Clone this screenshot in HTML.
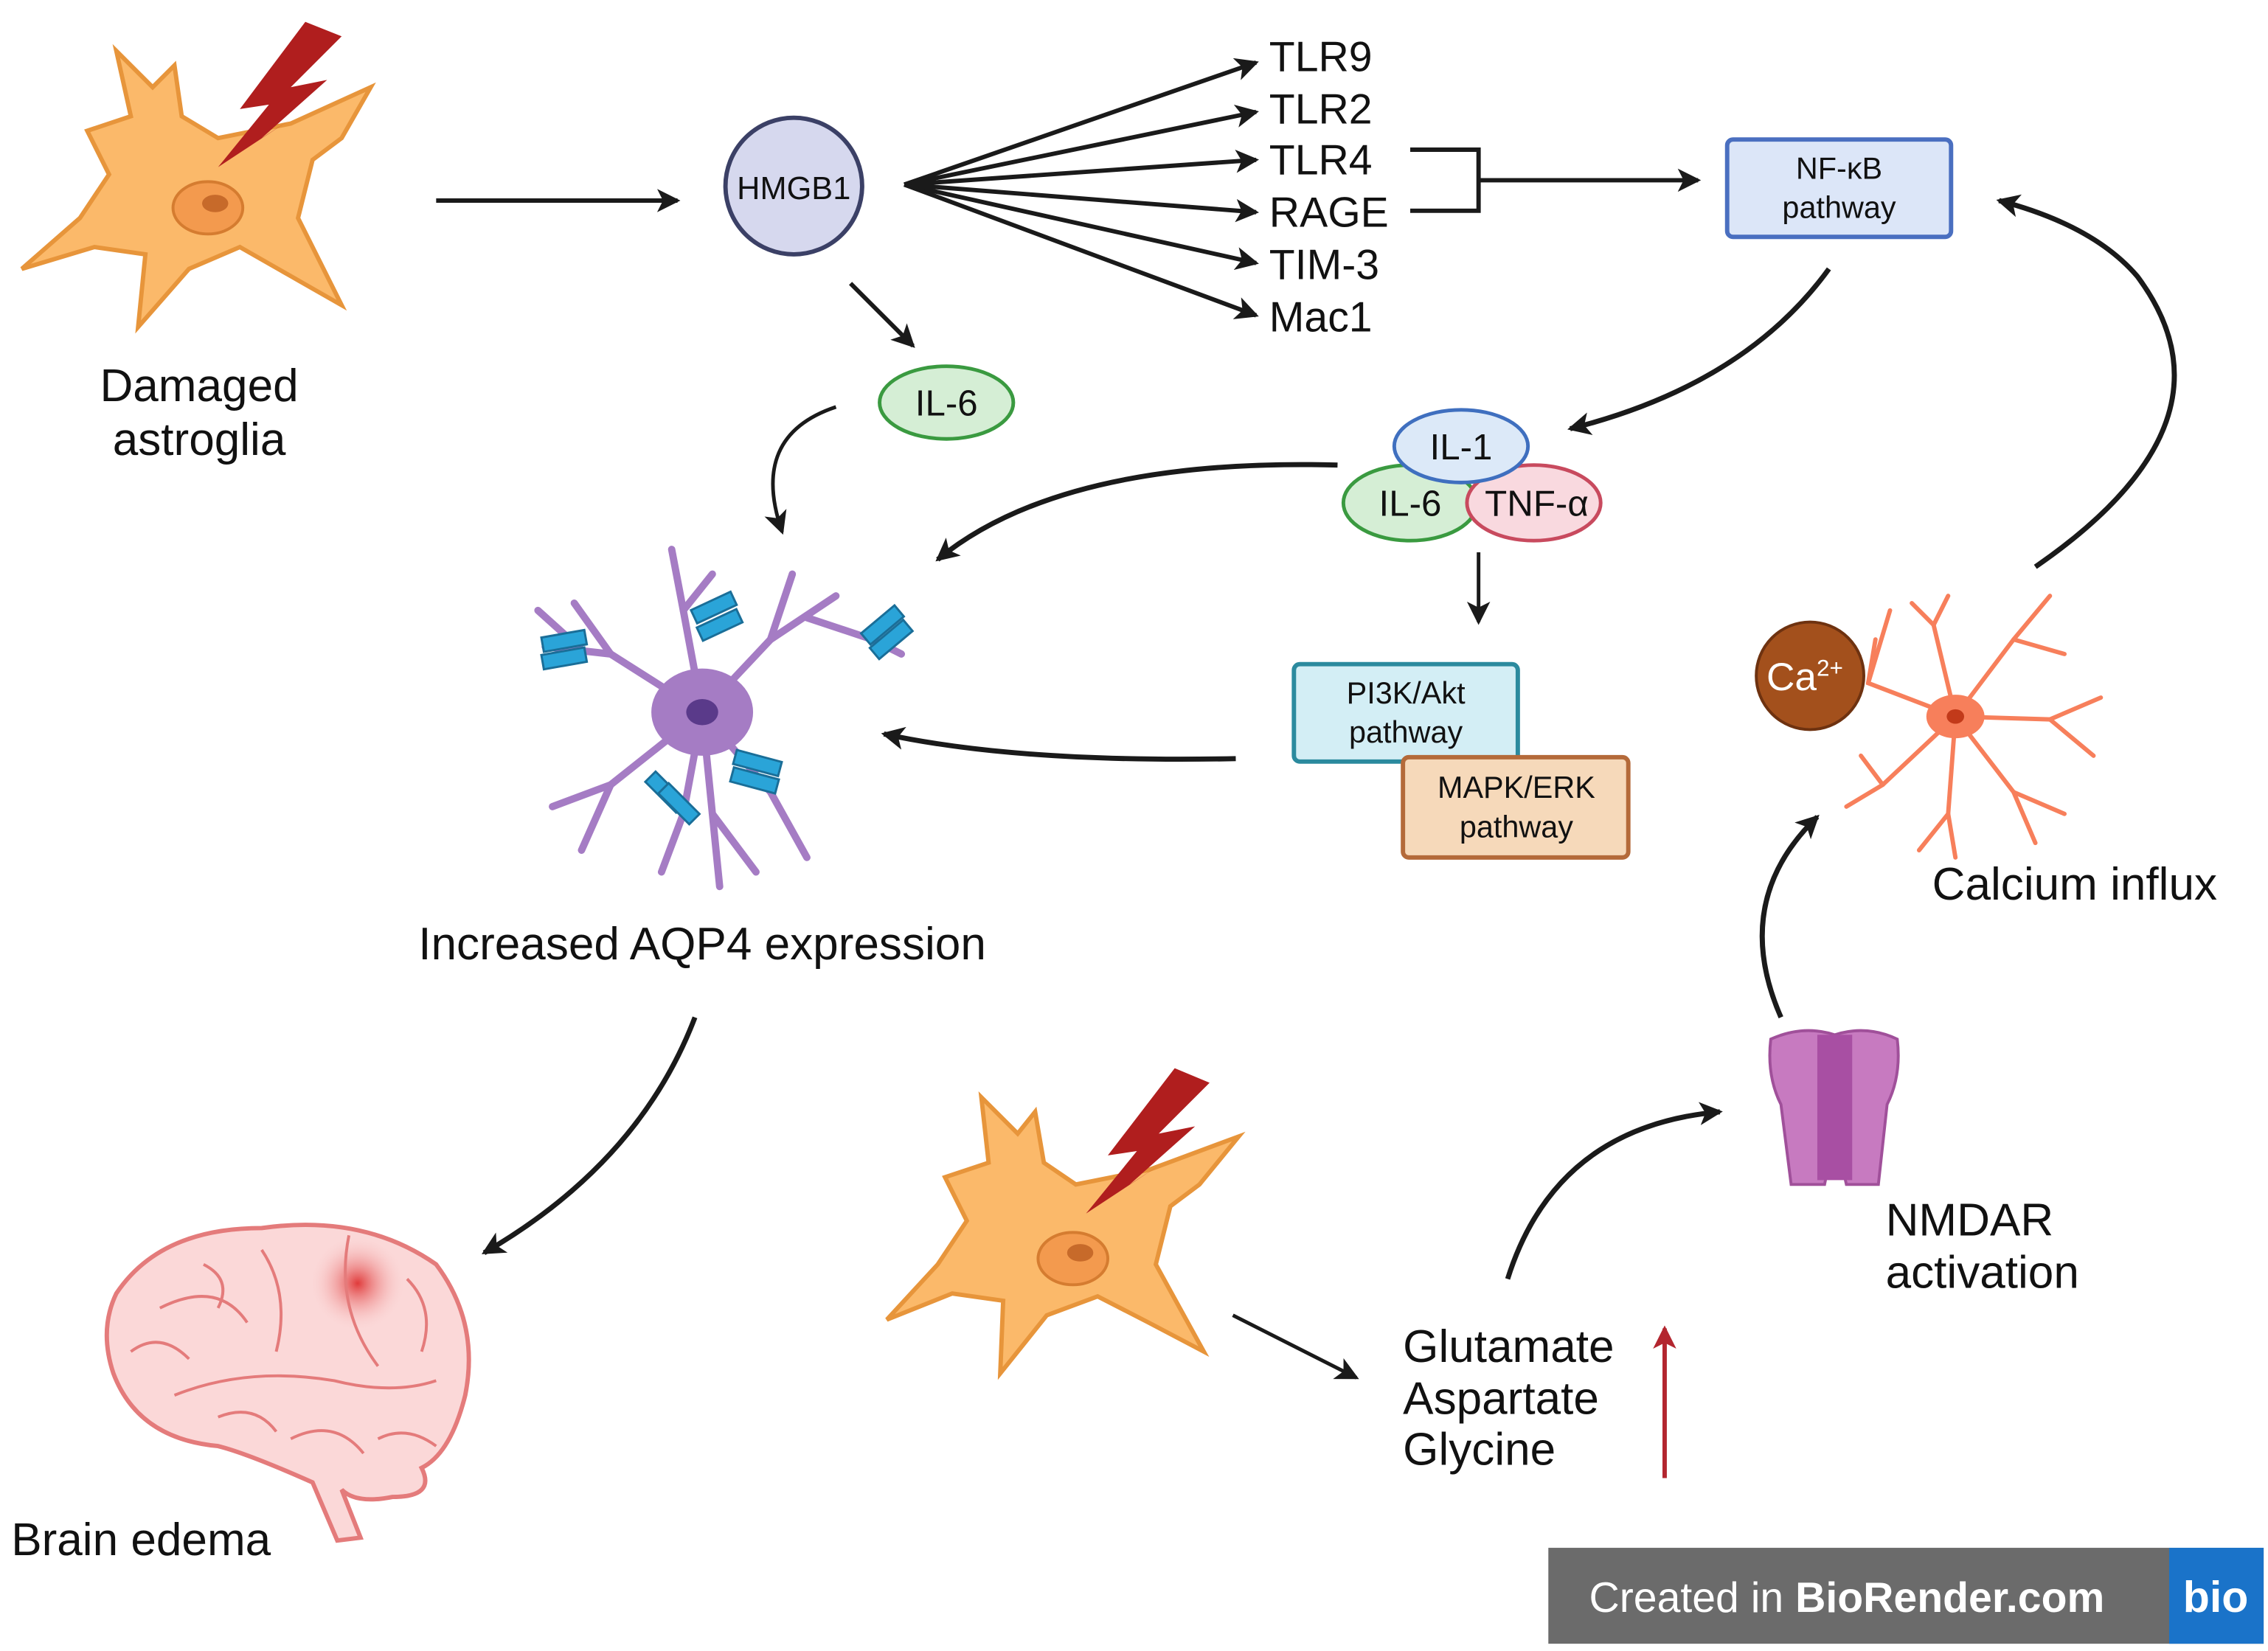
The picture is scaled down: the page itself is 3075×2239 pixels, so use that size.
<!DOCTYPE html>
<html><head><meta charset="utf-8"><style>
html,body{margin:0;padding:0;background:#fff}
svg{display:block}
text{font-family:"Liberation Sans",sans-serif;fill:#111}
</style></head><body>
<svg width="3075" height="2239" viewBox="0 0 1560 1136" preserveAspectRatio="none" xmlns="http://www.w3.org/2000/svg">
<defs>
<marker id="b" markerWidth="18" markerHeight="16" refX="14" refY="8" orient="auto" markerUnits="userSpaceOnUse"><path d="M0,0 L16,8 L0,16 L4,8Z" fill="#1a1a1a"/></marker>
<marker id="r" markerWidth="18" markerHeight="16" refX="14" refY="8" orient="auto" markerUnits="userSpaceOnUse"><path d="M0,0 L16,8 L0,16 L4,8Z" fill="#b3262f"/></marker>
<radialGradient id="brg" cx="0.6" cy="0.3" r="0.3"><stop offset="0" stop-color="#e03b3b"/><stop offset="1" stop-color="#fbd6d6" stop-opacity="0"/></radialGradient>
</defs>

<!-- Damaged astroglia 1 -->
<g fill="#FBB96A" stroke="#E7953B" stroke-width="3">
<path d="M80,35 L105,60 L120,45 L125,80 L150,95 L200,85 L255,60 L235,95 L215,110 L205,150 L235,210 L200,190 L165,170 L130,185 L95,225 L100,175 L65,170 L15,185 L55,150 L75,120 L60,90 L90,80 Z"/>
</g>
<ellipse cx="143" cy="143" rx="24" ry="18" fill="#F39A4E" stroke="#D57C30" stroke-width="2"/>
<ellipse cx="148" cy="140" rx="9" ry="6" fill="#C76A2A"/>
<path d="M210,15 L235,25 L200,60 L225,55 L180,95 L200,82 L150,115 L185,72 L165,75 Z" fill="#B01E1E"/>
<text x="137" y="276" font-size="31.5" text-anchor="middle">Damaged</text>
<text x="137" y="313" font-size="31.5" text-anchor="middle">astroglia</text>

<line x1="300" y1="138" x2="466" y2="138" stroke="#1a1a1a" stroke-width="3" marker-end="url(#b)"/>

<!-- HMGB1 -->
<circle cx="546" cy="128" r="47" fill="#D6D8EE" stroke="#3b4066" stroke-width="3"/>
<text x="546" y="137" font-size="22" text-anchor="middle">HMGB1</text>

<g stroke="#1a1a1a" stroke-width="3" fill="none" marker-end="url(#b)">
<line x1="622" y1="127" x2="864" y2="43"/>
<line x1="622" y1="127" x2="864" y2="77"/>
<line x1="622" y1="127" x2="864" y2="110"/>
<line x1="622" y1="127" x2="864" y2="146"/>
<line x1="622" y1="127" x2="864" y2="181"/>
<line x1="622" y1="127" x2="864" y2="217"/>
</g>
<g font-size="29">
<text x="873" y="49">TLR9</text>
<text x="873" y="85">TLR2</text>
<text x="873" y="120">TLR4</text>
<text x="873" y="156">RAGE</text>
<text x="873" y="192">TIM-3</text>
<text x="873" y="228">Mac1</text>
</g>
<path d="M970,103 L1017,103 L1017,145 L970,145" fill="none" stroke="#1a1a1a" stroke-width="3"/>
<line x1="1017" y1="124" x2="1168" y2="124" stroke="#1a1a1a" stroke-width="3" marker-end="url(#b)"/>

<rect x="1188" y="96" width="154" height="67" rx="4" fill="#DCE6F8" stroke="#4A6FC0" stroke-width="3"/>
<text x="1265" y="123" font-size="21" text-anchor="middle">NF-κB</text>
<text x="1265" y="150" font-size="21" text-anchor="middle">pathway</text>

<line x1="585" y1="195" x2="628" y2="238" stroke="#1a1a1a" stroke-width="3" marker-end="url(#b)"/>
<ellipse cx="651" cy="277" rx="46" ry="25" fill="#D5EED5" stroke="#3A9A40" stroke-width="2.5"/>
<text x="651" y="286" font-size="25" text-anchor="middle">IL-6</text>

<path d="M575,280 Q515,300 538,366" fill="none" stroke="#1a1a1a" stroke-width="2.5" marker-end="url(#b)"/>
<path d="M1258,185 Q1200,265 1080,295" fill="none" stroke="#1a1a1a" stroke-width="3.5" marker-end="url(#b)"/>

<ellipse cx="970" cy="346" rx="46" ry="26" fill="#D5EED5" stroke="#3A9A40" stroke-width="2.5"/>
<ellipse cx="1055" cy="346" rx="46" ry="26" fill="#F9D9DF" stroke="#C84A5E" stroke-width="2.5"/>
<ellipse cx="1005" cy="307" rx="46" ry="25" fill="#DCE9F8" stroke="#3F6FBF" stroke-width="2.5"/>
<text x="1005" y="316" font-size="25" text-anchor="middle">IL-1</text>
<text x="970" y="355" font-size="25" text-anchor="middle">IL-6</text>
<text x="1057" y="355" font-size="25" text-anchor="middle">TNF-α</text>

<path d="M920,320 Q730,315 645,385" fill="none" stroke="#1a1a1a" stroke-width="3.5" marker-end="url(#b)"/>
<line x1="1017" y1="380" x2="1017" y2="428" stroke="#1a1a1a" stroke-width="2.5" marker-end="url(#b)"/>

<rect x="890" y="457" width="154" height="67" rx="4" fill="#D3EEF5" stroke="#2B8A9E" stroke-width="3"/>
<text x="967" y="484" font-size="21" text-anchor="middle">PI3K/Akt</text>
<text x="967" y="511" font-size="21" text-anchor="middle">pathway</text>
<rect x="965" y="521" width="155" height="69" rx="4" fill="#F6D9BA" stroke="#B46A3A" stroke-width="3"/>
<text x="1043" y="549" font-size="21" text-anchor="middle">MAPK/ERK</text>
<text x="1043" y="576" font-size="21" text-anchor="middle">pathway</text>

<path d="M850,522 Q700,525 608,505" fill="none" stroke="#1a1a1a" stroke-width="3.5" marker-end="url(#b)"/>

<!-- AQP4 astrocyte -->
<g stroke="#A57CC4" stroke-width="5" fill="none" stroke-linecap="round">
<path d="M483,490 L470,420 L462,378"/><path d="M470,420 L490,395"/>
<path d="M483,490 L420,450 L375,445"/><path d="M420,450 L395,415"/><path d="M400,447 L370,420"/>
<path d="M483,490 L530,440 L575,410"/><path d="M530,440 L545,395"/><path d="M555,425 L600,440 L620,450"/>
<path d="M483,490 L420,540 L380,555"/><path d="M420,540 L400,585"/>
<path d="M483,490 L490,560 L495,610"/><path d="M490,560 L520,600"/>
<path d="M483,490 L530,545 L555,590"/><path d="M483,490 L470,560 L455,600"/>
</g>
<ellipse cx="483" cy="490" rx="35" ry="30" fill="#A57CC4"/>
<ellipse cx="483" cy="490" rx="11" ry="9" fill="#5A3A8A"/>
<g fill="#2AA4D8" stroke="#1A6E98" stroke-width="1.5">
<rect x="373" y="436" width="30" height="10" transform="rotate(-10 388 441)"/><rect x="373" y="448" width="30" height="10" transform="rotate(-10 388 453)"/>
<rect x="476" y="413" width="30" height="10" transform="rotate(-25 491 418)"/><rect x="480" y="425" width="30" height="10" transform="rotate(-25 495 430)"/>
<rect x="592" y="425" width="30" height="10" transform="rotate(-40 607 430)"/><rect x="598" y="435" width="30" height="10" transform="rotate(-40 613 440)"/>
<rect x="505" y="520" width="32" height="10" transform="rotate(15 521 525)"/><rect x="503" y="532" width="32" height="10" transform="rotate(15 519 537)"/>
<rect x="443" y="540" width="30" height="10" transform="rotate(45 458 545)"/><rect x="452" y="548" width="30" height="10" transform="rotate(45 467 553)"/>
</g>
<text x="483" y="660" font-size="31.5" text-anchor="middle">Increased AQP4 expression</text>

<path d="M478,700 Q440,800 333,862" fill="none" stroke="#1a1a1a" stroke-width="3.5" marker-end="url(#b)"/>

<!-- brain -->
<path d="M80,890 Q110,845 180,845 Q250,835 300,870 Q330,910 320,960 Q310,1000 290,1010 Q300,1030 270,1030 Q245,1035 235,1025 L248,1058 L232,1060 L215,1020 Q170,1000 150,995 Q95,990 78,945 Q68,915 80,890 Z" fill="#FBD8D8" stroke="#E47B7B" stroke-width="3"/>
<circle cx="235" cy="905" r="55" fill="url(#brg)"/>
<g stroke="#E47B7B" stroke-width="2" fill="none">
<path d="M120,960 Q170,940 230,950 Q270,960 300,950"/><path d="M180,860 Q200,890 190,930"/><path d="M240,850 Q230,900 260,940"/><path d="M110,900 Q150,880 170,910"/><path d="M260,990 Q280,980 300,995"/>
<path d="M90,930 Q110,915 130,935"/><path d="M140,870 Q160,880 150,900"/><path d="M280,880 Q300,900 290,930"/><path d="M200,990 Q230,975 250,1000"/><path d="M150,975 Q175,965 190,985"/>
</g>
<text x="97" y="1070" font-size="31.5" text-anchor="middle">Brain edema</text>

<!-- Damaged astroglia 2 -->
<g fill="#FBB96A" stroke="#E7953B" stroke-width="3">
<path d="M675,755 L700,780 L712,765 L718,800 L740,815 L790,805 L852,782 L825,815 L805,830 L795,870 L828,930 L790,910 L755,892 L720,905 L688,945 L690,895 L655,890 L610,908 L645,870 L665,840 L650,810 L680,800 Z"/>
</g>
<ellipse cx="738" cy="866" rx="24" ry="18" fill="#F39A4E" stroke="#D57C30" stroke-width="2"/>
<ellipse cx="743" cy="862" rx="9" ry="6" fill="#C76A2A"/>
<path d="M808,735 L832,745 L797,780 L822,775 L777,815 L797,802 L747,835 L782,792 L762,795 Z" fill="#B01E1E"/>

<line x1="848" y1="905" x2="933" y2="948" stroke="#1a1a1a" stroke-width="2.5" marker-end="url(#b)"/>
<g font-size="31.5"><text x="965" y="937">Glutamate</text><text x="965" y="973">Aspartate</text><text x="965" y="1008">Glycine</text></g>
<line x1="1145" y1="1017" x2="1145" y2="914" stroke="#b3262f" stroke-width="3" marker-end="url(#r)"/>

<path d="M1037,880 Q1070,775 1183,765" fill="none" stroke="#1a1a1a" stroke-width="3.5" marker-end="url(#b)"/>

<!-- NMDAR -->
<path d="M1218,715 Q1240,705 1262,712 Q1284,705 1305,715 Q1308,740 1298,760 L1292,815 L1270,815 L1262,780 L1255,815 L1232,815 L1225,760 Q1215,740 1218,715 Z" fill="#C77AC0" stroke="#A0509A" stroke-width="2"/>
<rect x="1250" y="712" width="24" height="100" fill="#A84FA3"/>
<g font-size="31.5"><text x="1297" y="850">NMDAR</text><text x="1297" y="886">activation</text></g>

<path d="M1225,700 Q1190,620 1250,562" fill="none" stroke="#1a1a1a" stroke-width="3.5" marker-end="url(#b)"/>

<!-- calcium neuron -->
<g stroke="#F77F5B" stroke-width="3" fill="none" stroke-linecap="round">
<path d="M1345,493 L1330,430 L1315,415"/><path d="M1330,430 L1340,410"/>
<path d="M1345,493 L1385,440 L1410,410"/><path d="M1385,440 L1420,450"/>
<path d="M1345,493 L1410,495 L1445,480"/><path d="M1410,495 L1440,520"/>
<path d="M1345,493 L1385,545 L1400,580"/><path d="M1385,545 L1420,560"/>
<path d="M1345,493 L1340,560 L1345,590"/><path d="M1340,560 L1320,585"/>
<path d="M1345,493 L1295,540 L1270,555"/><path d="M1295,540 L1280,520"/>
<path d="M1345,493 L1285,470 L1290,440"/><path d="M1300,420 L1285,470"/>
</g>
<ellipse cx="1345" cy="493" rx="20" ry="15" fill="#F77F5B"/>
<ellipse cx="1345" cy="493" rx="6" ry="5" fill="#C23A1A"/>
<circle cx="1245" cy="465" r="37" fill="#A3501C" stroke="#6e3210" stroke-width="2"/>
<text x="1215" y="475" font-size="27" style="fill:#fff">Ca<tspan font-size="16" dy="-10" style="fill:#fff">2+</tspan></text>
<text x="1427" y="619" font-size="31.5" text-anchor="middle">Calcium influx</text>

<path d="M1400,390 Q1545,290 1470,190 Q1440,155 1375,138" fill="none" stroke="#1a1a1a" stroke-width="3.5" marker-end="url(#b)"/>

<!-- banner -->
<rect x="1065" y="1065" width="492" height="66" fill="#6b6b6b"/>
<rect x="1492" y="1065" width="65" height="66" fill="#1A73C9"/>
<text x="1093" y="1109" font-size="29" style="fill:#fff">Created in <tspan font-weight="bold" style="fill:#fff">BioRender.com</tspan></text>
<text x="1524" y="1109" font-size="30" font-weight="bold" text-anchor="middle" style="fill:#fff">bio</text>
</svg>
</body></html>
